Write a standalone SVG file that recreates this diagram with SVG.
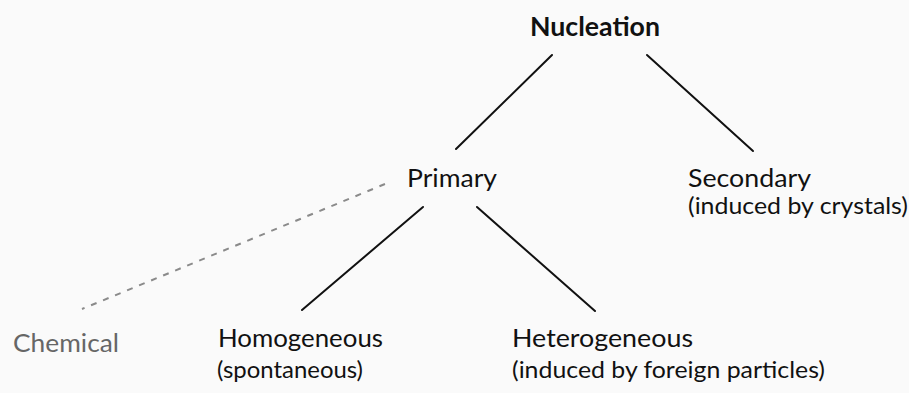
<svg xmlns="http://www.w3.org/2000/svg" width="909" height="393" viewBox="0 0 909 393">
<style>
text{font-family:Lato,"Open Sans","DejaVu Sans",sans-serif;fill:#111}
.t{font-size:25px}
.s{font-size:23.5px}
.b{font-weight:bold;font-size:26px}
.g{fill:#666}
.ln{stroke:#111;stroke-width:2;fill:none;stroke-linecap:round}
.ds{stroke:#8a8a8a;stroke-width:2;stroke-dasharray:6 7;fill:none}
</style>
<rect width="909" height="393" fill="#fafafa"/>
<g id="connectors">
<line class="ln" x1="552" y1="55" x2="456" y2="149"/>
<line class="ln" x1="647" y1="55" x2="753" y2="151"/>
<line class="ln" x1="423" y1="207" x2="302" y2="310"/>
<line class="ln" x1="477" y1="207" x2="595" y2="311"/>
<line class="ds" x1="385" y1="184" x2="82" y2="309"/>
</g>
<g id="nucleation"><text class="b" x="530" y="36" textLength="130" lengthAdjust="spacingAndGlyphs">Nucleation</text></g>
<g id="primary"><text class="t" x="407" y="187" textLength="90" lengthAdjust="spacingAndGlyphs">Primary</text></g>
<g id="secondary">
<text class="t" x="688" y="187" textLength="123" lengthAdjust="spacingAndGlyphs">Secondary</text>
<text class="s" x="688" y="214" textLength="220" lengthAdjust="spacingAndGlyphs">(induced by crystals)</text>
</g>
<g id="chemical"><text class="t g" x="13" y="352" textLength="106" lengthAdjust="spacingAndGlyphs">Chemical</text></g>
<g id="homogeneous">
<text class="t" x="218" y="347" textLength="165" lengthAdjust="spacingAndGlyphs">Homogeneous</text>
<text class="s" x="217" y="378" textLength="146" lengthAdjust="spacingAndGlyphs">(spontaneous)</text>
</g>
<g id="heterogeneous">
<text class="t" x="512" y="347" textLength="181" lengthAdjust="spacingAndGlyphs">Heterogeneous</text>
<text class="s" x="512" y="378" textLength="313" lengthAdjust="spacingAndGlyphs">(induced by foreign particles)</text>
</g>
</svg>
